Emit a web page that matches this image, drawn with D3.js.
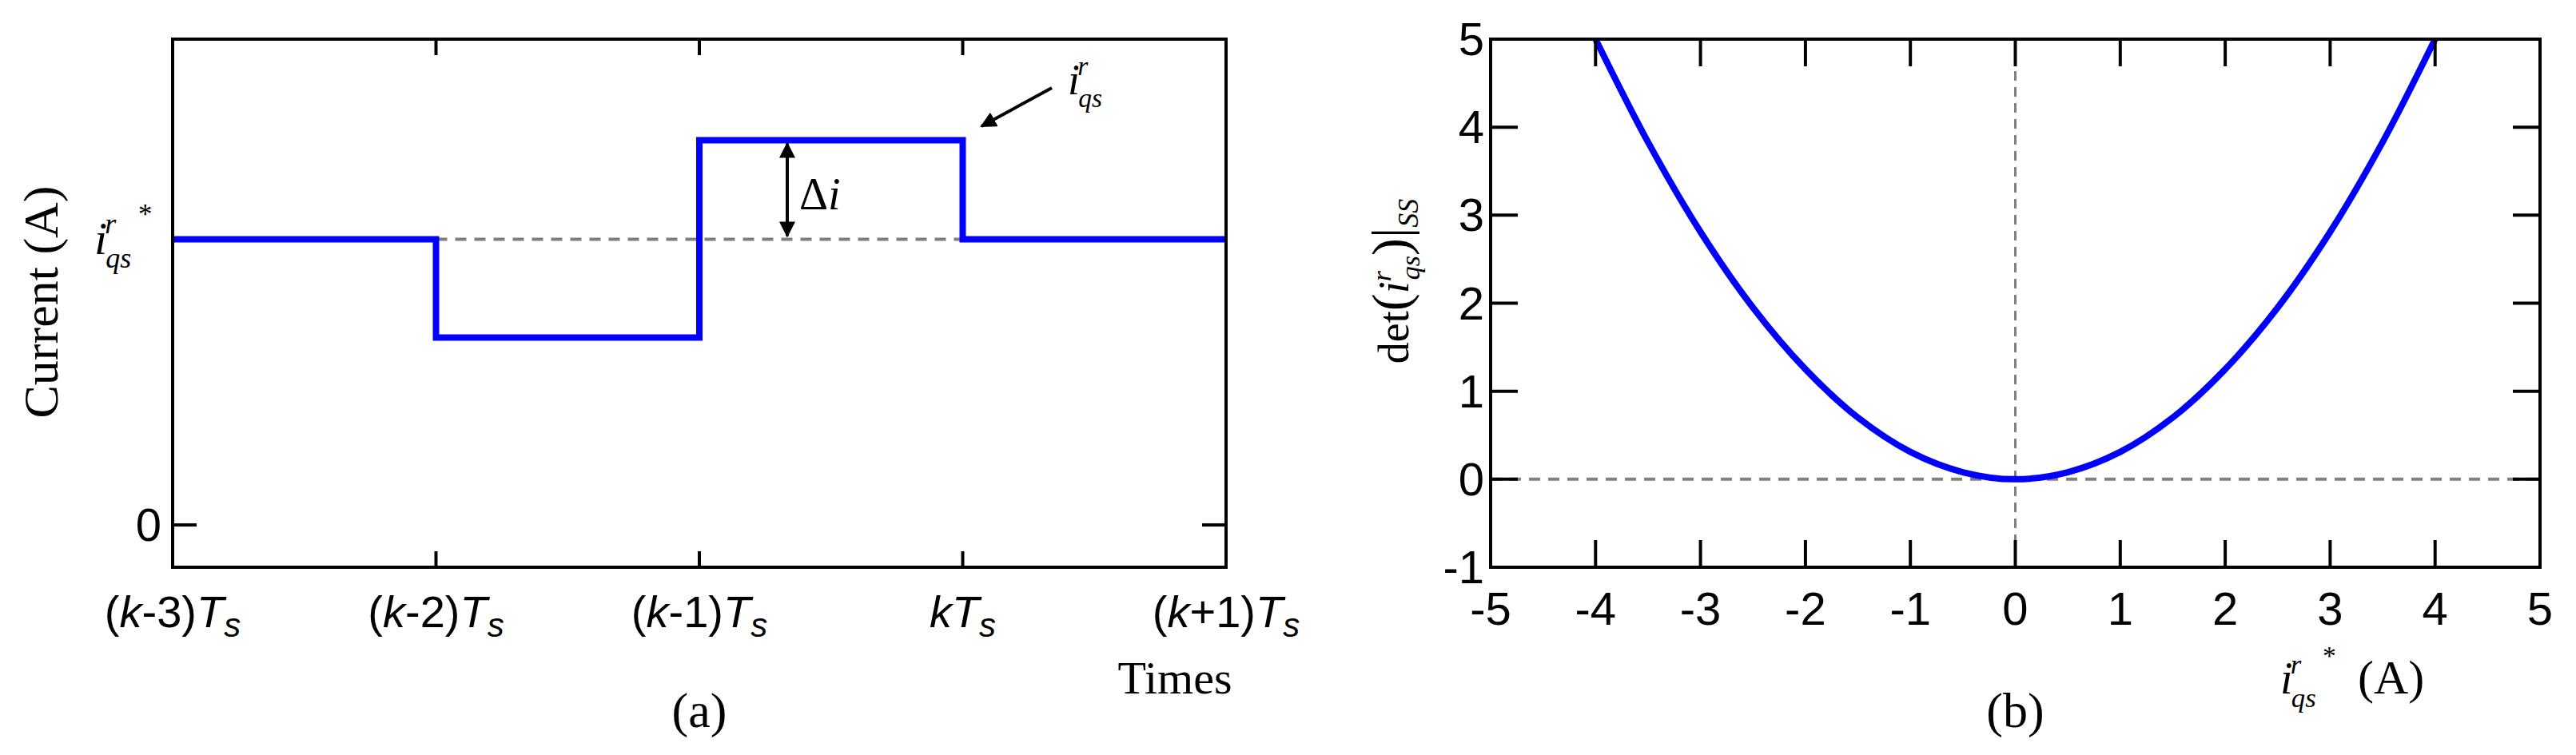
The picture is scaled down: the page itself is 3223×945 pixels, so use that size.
<!DOCTYPE html>
<html><head><meta charset="utf-8">
<script src="https://cdn.jsdelivr.net/npm/d3@7"></script>
<style>body{margin:0;background:#fff}text{fill:#000}</style>
</head><body>
<svg id="fig" width="3223" height="945"></svg>
<script>
// panel (a): step response
const stepTicks = ["(k-3)", "(k-2)", "(k-1)", "k", "(k+1)"];
const stepEdges = [0, 1, 2, 3, 4];
const stepLevels = [1, 0.656, 1.346, 1];
// panel (b): det(i)|ss vs i*
const detX = [-4, -3.5, -3, -2.5, -2, -1.5, -1, -0.5, 0, 0.5, 1, 1.5, 2, 2.5, 3, 3.5, 4];
const detY = [5, 3.83, 2.81, 1.95, 1.25, 0.70, 0.31, 0.08, 0, 0.08, 0.31, 0.70, 1.25, 1.95, 2.81, 3.83, 5];
const xTicksB = [-5, -4, -3, -2, -1, 0, 1, 2, 3, 4, 5];
const yTicksB = [-1, 0, 1, 2, 3, 4, 5];

const svg = d3.select("#fig");
const serif = "'Liberation Serif', 'DejaVu Serif', serif";
const narrow = "'Liberation Sans Narrow', 'Liberation Sans', Arial, sans-serif";

svg.append("defs").append("marker").attr("id", "ah")
  .attr("viewBox", "0 0 10 10").attr("refX", 9).attr("refY", 5)
  .attr("markerWidth", 5).attr("markerHeight", 5).attr("orient", "auto-start-reverse")
  .append("path").attr("d", "M0,0L10,5L0,10z").attr("fill", "#000");

// i_qs^r label builder
function iqs(g, x, y, size, star) {
  const t = g.append("text").attr("x", x).attr("y", y)
    .style("font-family", serif).style("font-style", "italic").style("font-size", size + "px");
  t.append("tspan").text("i");
  t.append("tspan").attr("dy", -size * 0.45).attr("dx", -size * 0.05).style("font-size", size * 0.62 + "px").text("r");
  t.append("tspan").attr("dy", size * 0.75).attr("dx", -size * 0.2).style("font-size", size * 0.62 + "px").text("qs");
  if (star) t.append("tspan").attr("dy", -size * 0.95).attr("dx", size * 0.15).style("font-style", "normal").style("font-size", size * 0.6 + "px").text("*");
  return t;
}

// ---------- panel (a)
const A = { l: 216, r: 1534, t: 49, b: 710 };
const xa = d3.scaleLinear().domain([0, 4]).range([A.l, A.r]);
const ya = d3.scaleLinear().domain([-0.148, 1.7]).range([A.b, A.t]);
const ga = svg.append("g");

ga.append("line").attr("x1", xa(1)).attr("x2", xa(4)).attr("y1", ya(1)).attr("y2", ya(1))
  .attr("stroke", "#808080").attr("stroke-width", 4).attr("stroke-dasharray", "14,10");

const stepData = stepLevels.map((v, i) => ({ x0: stepEdges[i], x1: stepEdges[i + 1], v }));
let p = d3.path();
stepData.forEach((d, i) => {
  if (i === 0) p.moveTo(xa(d.x0), ya(d.v)); else p.lineTo(xa(d.x0), ya(d.v));
  p.lineTo(xa(d.x1), ya(d.v));
});
ga.append("path").attr("d", p.toString()).attr("fill", "none").attr("stroke", "#0000ff").attr("stroke-width", 8);

ga.append("rect").attr("x", A.l).attr("y", A.t).attr("width", A.r - A.l).attr("height", A.b - A.t)
  .attr("fill", "none").attr("stroke", "#000").attr("stroke-width", 4);
stepEdges.slice(1, 4).forEach(e => {
  ga.append("line").attr("x1", xa(e)).attr("x2", xa(e)).attr("y1", A.b).attr("y2", A.b - 20).attr("stroke", "#000").attr("stroke-width", 4);
  ga.append("line").attr("x1", xa(e)).attr("x2", xa(e)).attr("y1", A.t).attr("y2", A.t + 20).attr("stroke", "#000").attr("stroke-width", 4);
});
[A.l, A.r - 30].forEach(x0 => ga.append("line").attr("x1", x0).attr("x2", x0 + 30).attr("y1", ya(0)).attr("y2", ya(0)).attr("stroke", "#000").attr("stroke-width", 4));
ga.append("text").attr("x", A.l - 14).attr("y", ya(0) + 20).attr("text-anchor", "end")
  .style("font-family", narrow).style("font-size", "58px").text("0");

stepTicks.forEach((k, i) => {
  const t = ga.append("text").attr("x", xa(stepEdges[i])).attr("y", 785).attr("text-anchor", "middle")
    .style("font-family", narrow).style("font-size", "56px");
  const m = k.match(/^(\(?)(k)(.*)$/);
  t.append("tspan").text(m[1]);
  t.append("tspan").style("font-style", "italic").text(m[2]);
  t.append("tspan").text(m[3]);
  t.append("tspan").style("font-style", "italic").text("T");
  t.append("tspan").attr("dy", 12).style("font-style", "italic").style("font-size", "42px").text("s");
});
ga.append("text").attr("x", 1470).attr("y", 868).attr("text-anchor", "middle")
  .style("font-family", serif).style("font-size", "58px").text("Times");
ga.append("text").attr("x", xa(2)).attr("y", 910).attr("text-anchor", "middle")
  .style("font-family", serif).style("font-size", "62px").text("(a)");
ga.append("text").attr("transform", "translate(72,378) rotate(-90)").attr("text-anchor", "middle")
  .style("font-family", serif).style("font-size", "62px").text("Current (A)");
iqs(ga, 118, 318, 58, true);

// delta arrow
const dx = 985;
ga.append("line").attr("x1", dx).attr("x2", dx).attr("y1", ya(1) - 4).attr("y2", ya(1.346) + 4)
  .attr("stroke", "#000").attr("stroke-width", 4)
  .attr("marker-start", "url(#ah)").attr("marker-end", "url(#ah)");
const dl = ga.append("text").attr("x", 1000).attr("y", 262).style("font-family", serif).style("font-size", "56px");
dl.append("tspan").text("Δ");
dl.append("tspan").style("font-style", "italic").text("i");
ga.append("line").attr("x1", 1316).attr("y1", 110).attr("x2", 1228).attr("y2", 158)
  .attr("stroke", "#000").attr("stroke-width", 4).attr("marker-end", "url(#ah)");
iqs(ga, 1336, 118, 54, false);

// ---------- panel (b)
const B = { l: 1865, r: 3178, t: 49, b: 710 };
const xb = d3.scaleLinear().domain([-5, 5]).range([B.l, B.r]);
const yb = d3.scaleLinear().domain([-1, 5]).range([B.b, B.t]);
const gb = svg.append("g");

gb.append("line").attr("x1", B.l).attr("x2", B.r).attr("y1", yb(0)).attr("y2", yb(0))
  .attr("stroke", "#808080").attr("stroke-width", 4).attr("stroke-dasharray", "14,10");
gb.append("line").attr("x1", xb(0)).attr("x2", xb(0)).attr("y1", B.t).attr("y2", B.b)
  .attr("stroke", "#808080").attr("stroke-width", 3).attr("stroke-dasharray", "12,8");

gb.append("path").datum(detX.map((x, i) => [x, detY[i]]))
  .attr("d", d3.line().x(d => xb(d[0])).y(d => yb(d[1])).curve(d3.curveCatmullRom))
  .attr("fill", "none").attr("stroke", "#0000ff").attr("stroke-width", 8);

gb.append("rect").attr("x", B.l).attr("y", B.t).attr("width", B.r - B.l).attr("height", B.b - B.t)
  .attr("fill", "none").attr("stroke", "#000").attr("stroke-width", 4);
xTicksB.slice(1, -1).forEach(v => {
  gb.append("line").attr("x1", xb(v)).attr("x2", xb(v)).attr("y1", B.b).attr("y2", B.b - 34).attr("stroke", "#000").attr("stroke-width", 4);
  gb.append("line").attr("x1", xb(v)).attr("x2", xb(v)).attr("y1", B.t).attr("y2", B.t + 34).attr("stroke", "#000").attr("stroke-width", 4);
});
yTicksB.slice(1, -1).forEach(v => {
  gb.append("line").attr("x1", B.l).attr("x2", B.l + 34).attr("y1", yb(v)).attr("y2", yb(v)).attr("stroke", "#000").attr("stroke-width", 4);
  gb.append("line").attr("x1", B.r).attr("x2", B.r - 34).attr("y1", yb(v)).attr("y2", yb(v)).attr("stroke", "#000").attr("stroke-width", 4);
});
xTicksB.forEach(v => gb.append("text").attr("x", xb(v)).attr("y", 782).attr("text-anchor", "middle")
  .style("font-family", narrow).style("font-size", "58px").text(v));
yTicksB.forEach(v => gb.append("text").attr("x", B.l - 8).attr("y", yb(v) + 20).attr("text-anchor", "end")
  .style("font-family", narrow).style("font-size", "58px").text(v));

const yl = gb.append("text").attr("transform", "translate(1762,352) rotate(-90)").attr("text-anchor", "middle")
  .style("font-family", serif).style("font-size", "54px");
yl.append("tspan").text("det");
yl.append("tspan").style("font-size", "66px").text("(");
yl.append("tspan").style("font-style", "italic").text("i");
yl.append("tspan").attr("dy", -22).style("font-style", "italic").style("font-size", "34px").text("r");
yl.append("tspan").attr("dy", 36).attr("dx", -10).style("font-style", "italic").style("font-size", "34px").text("qs");
yl.append("tspan").attr("dy", -14).style("font-size", "66px").text(")|");
yl.append("tspan").attr("dy", 12).style("font-style", "italic").style("font-size", "36px").text("SS");

iqs(gb, 2853, 868, 56, true);
gb.append("text").attr("x", 2950).attr("y", 868).style("font-family", serif).style("font-size", "60px").text("(A)");
gb.append("text").attr("x", xb(0)).attr("y", 910).attr("text-anchor", "middle")
  .style("font-family", serif).style("font-size", "62px").text("(b)");
</script>
</body></html>
